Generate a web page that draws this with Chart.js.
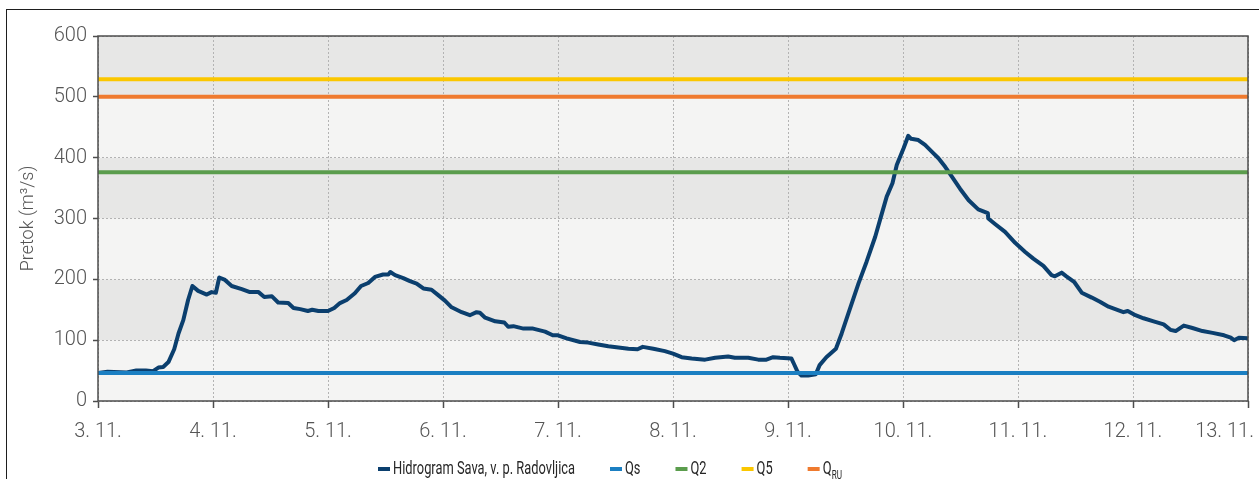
<!DOCTYPE html>
<html>
<head>
<meta charset="utf-8">
<title>Hidrogram Sava, v. p. Radovljica</title>
<script src="https://cdn.jsdelivr.net/npm/chart.js@4.4.1/dist/chart.umd.min.js"></script>
<style>
  html, body { margin: 0; padding: 0; background: #fff; overflow: hidden; width: 1259px; height: 479px; }
  #frame { position: absolute; left: 6px; top: 9px; width: 1400px; height: 600px; border: 1px solid #1e1e1e; box-sizing: border-box; }
  #wrap { position: absolute; left: 0; top: 0; width: 1259px; height: 479px; }
</style>
</head>
<body>
<div id="frame"></div>
<div id="wrap"><canvas id="chart" width="1259" height="479"></canvas></div>
<script>
// Day labels on the time axis (one tick every 24 h, starting 3. 11. 00:00)
const dayLabels = ['3. 11.', '4. 11.', '5. 11.', '6. 11.', '7. 11.', '8. 11.', '9. 11.', '10. 11.', '11. 11.', '12. 11.', '13. 11.'];

// Flow axis ticks (m3/s)
const flowTicks = [0, 100, 200, 300, 400, 500, 600];

// Hydrograph: hours since 3. 11. 00:00 and discharge (m3/s)
const hours = [0, 2, 6, 8, 10, 11.5, 12.6, 13.6, 14.7, 15.9,
  16.8, 17.8, 18.8, 19.7, 20.9, 22.7, 23.7, 24.6, 25.3, 26.5,
  27.9, 30, 31.7, 33.5, 34.7, 36.3, 37.6, 39.7, 40.8, 42.2,
  43.8, 44.7, 46, 48, 49.3, 50.5, 51.9, 53.6, 54.9, 56.4,
  57.8, 59.5, 60.6, 61, 62, 63.7, 65.1, 66.5, 67.9, 69.6,
  71, 72.4, 73.8, 75.9, 77.6, 79, 79.7, 80.8, 82.9, 84.8,
  85.6, 86.7, 88.8, 90.8, 93.3, 94.9, 96, 97.8, 100.6, 102.3,
  104.4, 106.5, 108.6, 110.7, 112.6, 113.7, 115.9, 118.3, 120, 121.8,
  123.9, 126.7, 128.8, 131.5, 132.9, 135.7, 137.8, 139.5, 140.9, 142.3,
  144.7, 145.3, 146, 146.8, 148.2, 149.8, 150.6, 152, 154, 155.2,
  156.6, 158.7, 160.4, 162.2, 163.4, 164.6, 165.8, 166.7, 168.1, 169.1,
  169.7, 171.2, 172.6, 174, 175.4, 176.8, 178.2, 179.9, 181.7, 183.7,
  185.7, 185.8, 187.2, 189.3, 191.4, 193.5, 195.2, 197.3, 199, 199.7,
  201.1, 202.1, 203.7, 205.3, 207.4, 209.1, 210.9, 213, 214, 214.9,
  216.5, 218.2, 220.3, 222.4, 223.8, 224.9, 226.6, 228.4, 230.5, 232.6,
  235, 236.4, 237.1, 238.1, 240];

const flow = [46, 48, 47, 50, 50, 49, 55, 56, 64, 85,
  111, 133, 166, 189, 181, 175, 179, 178, 203, 199,
  189, 184, 179, 179, 171, 172, 162, 161, 153, 151,
  148, 150, 148, 148, 153, 161, 166, 177, 189, 194,
  204, 208, 208, 212, 207, 202, 197, 193, 185, 183,
  174, 165, 154, 146, 141, 146, 145, 137, 131, 129,
  122, 123, 119, 119, 114, 108, 108, 103, 97, 96,
  93, 90, 88, 86, 85, 89, 86, 82, 78, 72,
  70, 68, 71, 73, 71, 71, 68, 68, 72, 71,
  70, 60, 48, 42, 42, 44, 59, 72, 86, 111,
  144, 193, 229, 270, 303, 336, 358, 388, 415, 436,
  431, 429, 421, 410, 399, 385, 369, 349, 330, 315,
  309, 300, 291, 278, 260, 245, 234, 222, 207, 205,
  211, 205, 196, 178, 170, 163, 155, 149, 146, 148,
  141, 136, 131, 126, 117, 115, 124, 120, 115, 112,
  108, 104, 100, 104, 103];

// Characteristic discharges (m3/s)
const thresholdNames = ['Qs', 'Q2', 'Q5', 'Q'];
const thresholdSubs = ['', '', '', 'RU'];
const thresholdValues = [46, 376, 529, 500];

const seriesName = 'Hidrogram Sava, v. p. Radovljica';

const FONT = 'Roboto, "Liberation Sans", sans-serif';
const colors = {
  hydro: '#0b3f6e',
  Qs: '#1b7fc2',
  Q2: '#5b9d4d',
  Q5: '#fbc700',
  Q: '#ef7a2e'
};
const thresholdColors = [colors.Qs, colors.Q2, colors.Q5, colors.Q];

const tStart = 0;
const tEnd = (dayLabels.length - 1) * 24;

const datasets = [{
  label: seriesName,
  data: hours.map((h, i) => ({ x: h, y: flow[i] })),
  borderColor: colors.hydro,
  borderWidth: 4,
  pointRadius: 0,
  tension: 0,
  borderJoinStyle: 'round',
  borderCapStyle: 'round',
  order: 1
}];
thresholdNames.forEach((name, i) => {
  datasets.push({
    label: name + thresholdSubs[i],
    data: [{ x: tStart, y: thresholdValues[i] }, { x: tEnd, y: thresholdValues[i] }],
    borderColor: thresholdColors[i],
    borderWidth: 4,
    pointRadius: 0,
    tension: 0,
    borderCapStyle: 'butt',
    order: 0
  });
});

// Alternating horizontal bands behind the grid
const bandPlugin = {
  id: 'bands',
  beforeDraw(chart) {
    const { ctx, chartArea: a, scales: { y } } = chart;
    ctx.save();
    for (let i = 0; i < flowTicks.length - 1; i++) {
      const yTop = y.getPixelForValue(flowTicks[i + 1]);
      const yBot = y.getPixelForValue(flowTicks[i]);
      ctx.fillStyle = (i % 2 === 0) ? '#f4f4f3' : '#e7e7e6';
      ctx.fillRect(a.left, yTop, a.right - a.left, yBot - yTop);
    }
    ctx.restore();
  }
};

// Plot frame, day labels and legend
const decorPlugin = {
  id: 'decor',
  afterDraw(chart) {
    const { ctx, chartArea: a, scales: { x } } = chart;
    ctx.save();
    ctx.strokeStyle = '#4d4d4d';
    ctx.lineWidth = 1.5;
    ctx.strokeRect(a.left, a.top, a.right - a.left, a.bottom - a.top);

    // day labels under the time axis
    ctx.font = '300 20px ' + FONT;
    ctx.fillStyle = '#555';
    ctx.textBaseline = 'alphabetic';
    ctx.textAlign = 'left';
    dayLabels.forEach((lab, i) => {
      const px = x.getPixelForValue(i * 24);
      const w = ctx.measureText(lab).width;
      let left = px - w / 2;
      if (left + w > chart.width - 5) left = chart.width - 5 - w;
      ctx.fillText(lab, left, 437);
    });

    // legend (condensed lettering)
    const items = [{ text: seriesName, sub: '', color: colors.hydro }];
    thresholdNames.forEach((n, i) => items.push({ text: n, sub: thresholdSubs[i], color: thresholdColors[i] }));
    const legendFont = '19px ' + FONT;
    ctx.font = legendFont;
    const squeeze = 182 / ctx.measureText(seriesName).width;
    let cx = 378;
    const cy = 469;
    items.forEach(it => {
      ctx.fillStyle = it.color;
      ctx.fillRect(cx, cy - 2, 12, 4);
      cx += 15;
      ctx.save();
      ctx.translate(cx, cy);
      ctx.scale(squeeze, 1);
      ctx.fillStyle = '#262626';
      ctx.font = legendFont;
      ctx.textBaseline = 'middle';
      ctx.textAlign = 'left';
      ctx.fillText(it.text, 0, 0);
      let w = ctx.measureText(it.text).width;
      if (it.sub) {
        ctx.font = '12px ' + FONT;
        ctx.fillText(it.sub, w + 0.5, 7);
        w += ctx.measureText(it.sub).width + 0.5;
      }
      ctx.restore();
      cx += w * squeeze + 35;
    });
    ctx.restore();
  }
};

new Chart(document.getElementById('chart'), {
  type: 'line',
  data: { datasets },
  options: {
    responsive: false,
    animation: false,
    devicePixelRatio: 1,
    layout: { padding: { top: 36, right: 11, bottom: 0, left: 0 } },
    plugins: {
      legend: { display: false },
      tooltip: { enabled: false }
    },
    scales: {
      x: {
        type: 'linear',
        min: tStart,
        max: tEnd,
        ticks: { display: false, stepSize: 24 },
        grid: {
          color: '#b3b3b3',
          lineWidth: 1,
          drawTicks: true,
          tickLength: 7,
          tickColor: '#4d4d4d',
          tickWidth: 1.5
        },
        border: { display: false, dash: [2, 2] },
        afterFit(scale) { scale.height = 78; }
      },
      y: {
        min: flowTicks[0],
        max: flowTicks[flowTicks.length - 1],
        afterBuildTicks(scale) { scale.ticks = flowTicks.map(v => ({ value: v })); },
        ticks: {
          padding: 6,
          color: '#555',
          font: { family: FONT, size: 20, weight: '300' }
        },
        grid: {
          color: '#b3b3b3',
          lineWidth: 1,
          drawTicks: true,
          tickLength: 5,
          tickColor: '#4d4d4d',
          tickWidth: 1.5
        },
        border: { display: false, dash: [2, 2] },
        title: {
          display: true,
          text: 'Pretok (m³/s)',
          color: '#555',
          font: { family: FONT, size: 18, weight: '300' },
          padding: { top: 18, bottom: 0 }
        },
        afterFit(scale) { scale.width = 98; }
      }
    }
  },
  plugins: [bandPlugin, decorPlugin]
});
</script>
</body>
</html>
